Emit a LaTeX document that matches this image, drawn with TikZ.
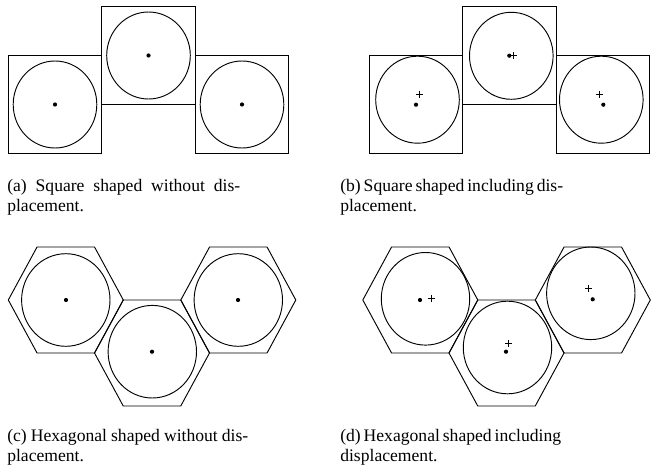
\documentclass[tikz,border=0pt]{standalone}
\usepackage{fontspec}
\setmainfont{Liberation Serif}
\begin{document}
\begin{tikzpicture}[x=0.75pt,y=-0.75pt,
  shapeline/.style={line width=0.7pt,black},
  ring/.style={line width=0.7pt,black},
  dotmark/.style={fill=black},
  captxt/.style={anchor=base west,inner sep=0pt,font=\fontsize{13.2}{15}\selectfont}]
\useasboundingbox (0,0) rectangle (652,470);
% ---------- helpers
\newcommand{\sqcell}[2]{\draw[shapeline] (#1-46.75,#2-49) rectangle (#1+46.75,#2+49);}
\newcommand{\hexcell}[2]{\draw[shapeline] (#1-57.5,#2) -- (#1-28.75,#2-53) -- (#1+28.75,#2-53) -- (#1+57.5,#2) -- (#1+28.75,#2+53) -- (#1-28.75,#2+53) -- cycle;}
\newcommand{\sqring}[2]{\draw[ring] (#1,#2) ellipse [x radius=41.8,y radius=43.5];}
\newcommand{\hxring}[2]{\draw[ring] (#1,#2) ellipse [x radius=44.2,y radius=46.3];}
\newcommand{\ctrmark}[2]{\fill[dotmark] (#1,#2) circle [radius=2.1];}
\newcommand{\plusmark}[2]{\draw[line width=0.7pt] (#1-3.5,#2) -- (#1+3.5,#2) (#1,#2-3.5) -- (#1,#2+3.5);}
% ---------- (a)
\sqcell{55}{104.5}\sqcell{148.5}{55}\sqcell{242}{104.5}
\sqring{55}{104.5}\sqring{148.5}{55.5}\sqring{242}{104.5}
\ctrmark{55}{104.5}\ctrmark{148.5}{55.5}\ctrmark{242}{104.5}
% ---------- (b)
\sqcell{416}{104.5}\sqcell{509.5}{55}\sqcell{603}{104.5}
\sqring{417.5}{99.7}\sqring{511.3}{55.8}\sqring{601.3}{99.7}
\ctrmark{416}{104.7}\ctrmark{509.3}{55.7}\ctrmark{603.3}{104.7}
\plusmark{419.3}{94.7}\plusmark{513.3}{55.7}\plusmark{599.3}{94.7}
% ---------- (c)
\hexcell{65.8}{300}\hexcell{152}{353}\hexcell{238.3}{300}
\hxring{65.8}{300}\hxring{152.3}{351.7}\hxring{238.3}{300}
\ctrmark{66}{300}\ctrmark{152}{351.7}\ctrmark{238}{300}
% ---------- (d)
\hexcell{420.3}{300}\hexcell{506.5}{353}\hexcell{592.8}{300}
\hxring{425.5}{298.8}\hxring{507.5}{347.5}\hxring{590.8}{293.3}
\ctrmark{420}{300}\ctrmark{506}{351.7}\ctrmark{592.7}{299.3}
\plusmark{431}{298.3}\plusmark{508.7}{343.3}\plusmark{588.7}{288.3}
% ---------- captions
\node[captxt] (capa1) at (7,191) {\makebox[174.75pt][s]{(a) Square shaped without dis-}};
\node[captxt] (capa2) at (7,211) {placement.};
\node[captxt] (capb1) at (340,191) {\makebox[154.5pt][s]{(b) Square shaped including dis-}};
\node[captxt] (capb2) at (340,211) {placement.};
\node[captxt] (capc1) at (7,441) {\makebox[180.75pt][s]{(c) Hexagonal shaped without dis-}};
\node[captxt] (capc2) at (7,461) {placement.};
\node[captxt] (capd1) at (340,441) {\makebox[154.5pt][s]{(d) Hexagonal shaped including}};
\node[captxt] (capd2) at (340,461) {displacement.};
\end{tikzpicture}
\end{document}
